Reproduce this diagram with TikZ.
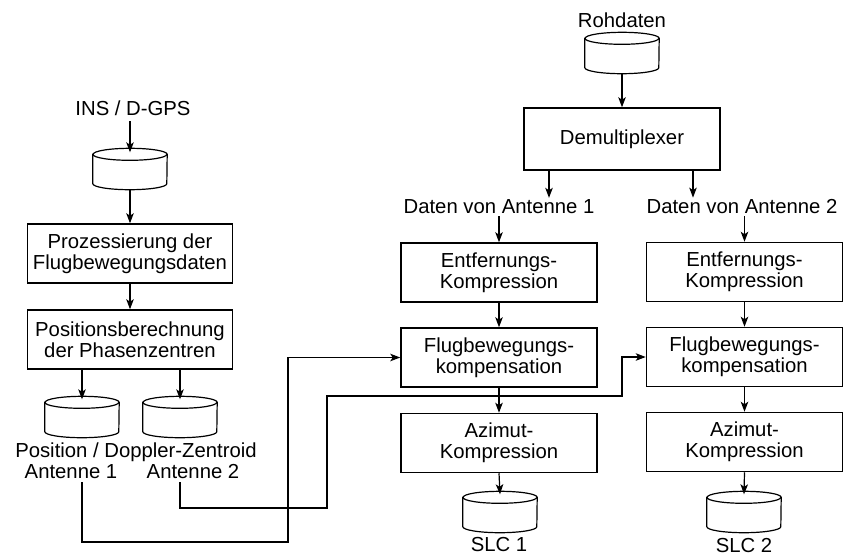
\documentclass[tikz,border=0pt]{standalone}
\usepackage{fontspec}
\setmainfont{Liberation Sans}
\usetikzlibrary{arrows.meta,calc}
% outline of a data store (drum) around a named rectangular node
\newcommand\drumoutline[1]{%
  \draw[line width=1.2pt]
    ([yshift=-6pt]#1.north west) -- ([yshift=6pt]#1.south west)
    arc[start angle=180, end angle=360, x radius=37pt, y radius=6pt]
    -- ([yshift=-6pt]#1.north east)
    arc[start angle=0, end angle=180, x radius=37pt, y radius=6pt] -- cycle;
  \draw[line width=1.2pt] ([yshift=-6pt]#1.north west)
    arc[start angle=180, end angle=360, x radius=37pt, y radius=6pt];
}
\begin{document}
\begin{tikzpicture}[x=1pt,y=-1pt,
  every node/.style={font=\fontsize{20.3}{21}\selectfont},
  proc/.style={draw, line width=1.5pt, minimum width=196pt, minimum height=59pt,
    align=center, inner sep=0pt},
  wideproc/.style={proc, minimum width=205pt},
  store/.style={rectangle, minimum width=74pt, minimum height=41pt, inner sep=0pt},
  lbl/.style={inner sep=1pt, anchor=base},
  arr/.style={line width=1.2pt, -{Stealth[length=10pt,width=7.5pt,inset=2.5pt]}}
]
\useasboundingbox (0,0) rectangle (845,555);

% ---- navigation data branch ----
\node[lbl] (ins) at (133,115) {INS / D-GPS};
\node[store] (nav) at (130,169) {};
\node[wideproc] (proz) at (130,253.5) {Prozessierung der\\Flugbewegungsdaten};
\node[wideproc] (posb) at (130,339.5) {Positionsberechnung\\der Phasenzentren};
\node[store] (pos1) at (82,417) {};
\node[store] (pos2) at (180,417) {};
\node[lbl] (posdz) at (136,457) {Position / Doppler-Zentroid};
\node[lbl] (ant1) at (71,478) {Antenne 1};
\node[lbl] (ant2) at (193,478) {Antenne 2};

% ---- radar data branch ----
\node[lbl] (roh) at (622,27) {Rohdaten};
\node[store] (raw) at (622,53) {};
\node[proc, minimum height=62pt] (demux) at (622,139) {Demultiplexer};
\node[lbl] (da1) at (499,213) {Daten von Antenne 1};
\node[lbl] (da2) at (742,213) {Daten von Antenne 2};

\node[proc] (ent1) at (499,272.5) {Entfernungs-\\Kompression};
\node[proc] (flug1) at (499,357.5) {Flugbewegungs-\\kompensation};
\node[proc] (az1) at (499,443) {Azimut-\\Kompression};
\node[store] (slc1) at (500,512) {};
\node[lbl] (slc1l) at (499,551) {SLC 1};

\node[proc] (ent2) at (744.5,272) {Entfernungs-\\Kompression};
\node[proc] (flug2) at (744.5,357) {Flugbewegungs-\\kompensation};
\node[proc] (az2) at (744.5,442) {Azimut-\\Kompression};
\node[store] (slc2) at (744,512) {};
\node[lbl] (slc2l) at (744,552) {SLC 2};

\foreach \d in {nav,pos1,pos2,raw,slc1,slc2} {\drumoutline{\d}}

% bends of the motion data lines
\coordinate (b1) at (288,542);
\coordinate (b2a) at (327,508);
\coordinate (b2b) at (622,396);

% ---- connectors ----
\draw[arr] ([yshift=-5pt]nav |- ins.south) -- ([yshift=-4pt]nav.north);
\draw[arr] (nav.south) -- (proz.north);
\draw[arr] (proz) -- (posb);
\draw[arr] (pos1 |- posb.south) -- ([yshift=-3pt]pos1.north);
\draw[arr] (pos2 |- posb.south) -- ([yshift=-3pt]pos2.north);

\draw[arr] (raw.south) -- (demux.north);
\draw[arr] ([xshift=-73pt]demux.south) -- ([xshift=-73pt]demux.south |- da1.north);
\draw[arr] ([xshift=71pt]demux.south) -- ([xshift=71pt]demux.south |- da2.north);

\draw[arr] ([yshift=-2pt]da1.south) -- (ent1.north);
\draw[arr] (ent1) -- (flug1);
\draw[arr] (flug1) -- (az1);
\draw[arr] (az1.south) -- ([yshift=-3pt]slc1.north);

\draw[arr] ([yshift=-2pt]da2.south -| ent2) -- (ent2.north);
\draw[arr] (ent2) -- (flug2);
\draw[arr] (flug2) -- (az2);
\draw[arr] (az2.south) -- ([yshift=-3pt]slc2.north);

\draw[arr] ([yshift=-3pt]pos1 |- ant1.south) |- (b1) |- (flug1.west);
\draw[arr] ([yshift=-3pt]pos2 |- ant2.south) |- (b2a) |- (b2b) |- (flug2.west);
\end{tikzpicture}
\end{document}
